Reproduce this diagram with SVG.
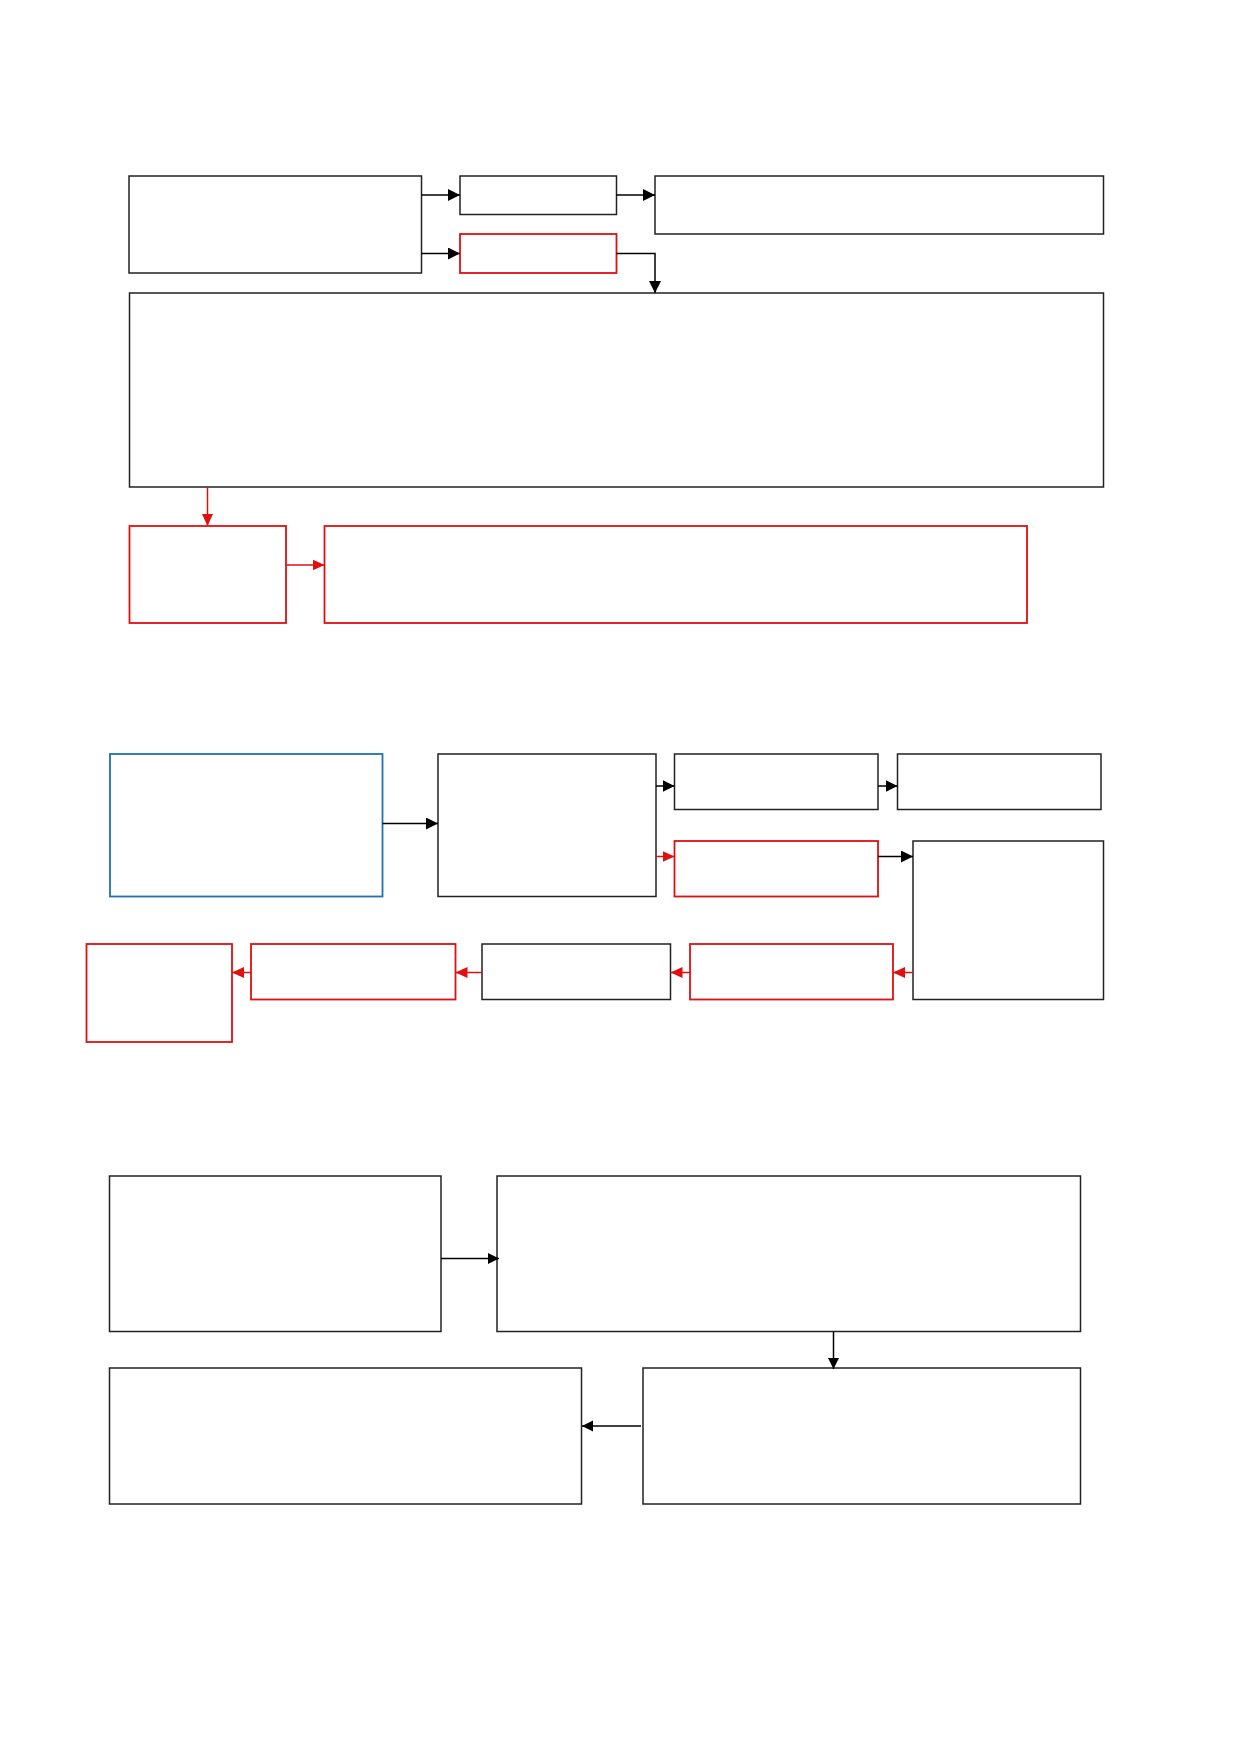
<svg xmlns="http://www.w3.org/2000/svg" width="1239" height="1752" viewBox="0 0 1239 1752">
<style>
.n{fill:#fff;stroke:#222;stroke-width:1.5}
.r{fill:#fff;stroke:#e01010;stroke-width:1.8}
.b{fill:#fff;stroke:#1f6fb2;stroke-width:1.8}
.c{fill:none;stroke:#000;stroke-width:1.5}
.cr{fill:none;stroke:#e01010;stroke-width:1.5}
</style>
<defs>
<marker id="ak" markerUnits="userSpaceOnUse" markerWidth="14" markerHeight="12" refX="12" refY="6" orient="auto"><path d="M0,0 L12,6 L0,12 Z" fill="#000"/></marker>
<marker id="as" markerUnits="userSpaceOnUse" markerWidth="14" markerHeight="12" refX="11" refY="6" orient="auto"><path d="M0,0.5 L11,6 L0,11.5 Z" fill="#000"/></marker>
<marker id="ar" markerUnits="userSpaceOnUse" markerWidth="14" markerHeight="12" refX="12" refY="6" orient="auto"><path d="M0,0.5 L12,6 L0,11.5 Z" fill="#e01010"/></marker>
</defs>
<rect width="1239" height="1752" fill="#fff"/>
<g id="nodes">
<g id="A"><rect class="n" x="129" y="176" width="292.5" height="97"/></g>
<g id="B"><rect class="n" x="460" y="176" width="156.5" height="38.5"/></g>
<g id="C"><rect class="r" x="460" y="234" width="156.5" height="39"/></g>
<g id="D"><rect class="n" x="655" y="176" width="448.5" height="58"/></g>
<g id="E"><rect class="n" x="129.5" y="293" width="974" height="194"/></g>
<g id="F"><rect class="r" x="129.5" y="526" width="156.5" height="97"/></g>
<g id="G"><rect class="r" x="324.5" y="526" width="702.5" height="97"/></g>
<g id="H"><rect class="b" x="110" y="754" width="272.5" height="142.5"/></g>
<g id="I"><rect class="n" x="438" y="754" width="218" height="142.5"/></g>
<g id="J"><rect class="n" x="674.5" y="754" width="203.5" height="55.5"/></g>
<g id="K"><rect class="n" x="897.5" y="754" width="203.5" height="55.5"/></g>
<g id="L"><rect class="r" x="674.5" y="841" width="203.5" height="55.5"/></g>
<g id="M"><rect class="n" x="913" y="841" width="190.5" height="158.5"/></g>
<g id="N"><rect class="r" x="690" y="944" width="203" height="55.5"/></g>
<g id="O"><rect class="n" x="482" y="944" width="188.5" height="55.5"/></g>
<g id="P"><rect class="r" x="251" y="944" width="204.5" height="55.5"/></g>
<g id="Q"><rect class="r" x="86.5" y="944" width="145.5" height="98"/></g>
<g id="R"><rect class="n" x="109.5" y="1176" width="331.5" height="155.5"/></g>
<g id="S"><rect class="n" x="497" y="1176" width="583.5" height="155.5"/></g>
<g id="T"><rect class="n" x="109.5" y="1368" width="472" height="136"/></g>
<g id="U"><rect class="n" x="643" y="1368" width="437.5" height="136"/></g>
</g>
<g id="connectors">
<path class="c" d="M421.5,195 H460" marker-end="url(#ak)"/>
<path class="c" d="M421.5,253.5 H460" marker-end="url(#ak)"/>
<path class="c" d="M616.5,195 H655" marker-end="url(#ak)"/>
<path class="c" d="M616.5,253.5 H655 V293" marker-end="url(#ak)"/>
<path class="cr" d="M207.5,487 V526" marker-end="url(#ar)"/>
<path class="cr" d="M286,565 H324.5" marker-end="url(#ar)"/>
<path class="c" d="M382.5,823.5 H438" marker-end="url(#ak)"/>
<path class="c" d="M656,786 H674.5" marker-end="url(#ak)"/>
<path class="cr" d="M656,856.5 H674.5" marker-end="url(#ar)"/>
<path class="c" d="M878,786 H897.5" marker-end="url(#ak)"/>
<path class="c" d="M878,856.5 H913" marker-end="url(#ak)"/>
<path class="cr" d="M913,972.5 H893" marker-end="url(#ar)"/>
<path class="cr" d="M690,972.5 H670.5" marker-end="url(#ar)"/>
<path class="cr" d="M482,972.5 H455.5" marker-end="url(#ar)"/>
<path class="cr" d="M251,972.5 H232" marker-end="url(#ar)"/>
<path class="c" d="M441,1258.5 H499" marker-end="url(#as)"/>
<path class="c" d="M833.5,1331.5 V1369" marker-end="url(#as)"/>
<path class="c" d="M641,1426 H582" marker-end="url(#as)"/>
</g>
</svg>
